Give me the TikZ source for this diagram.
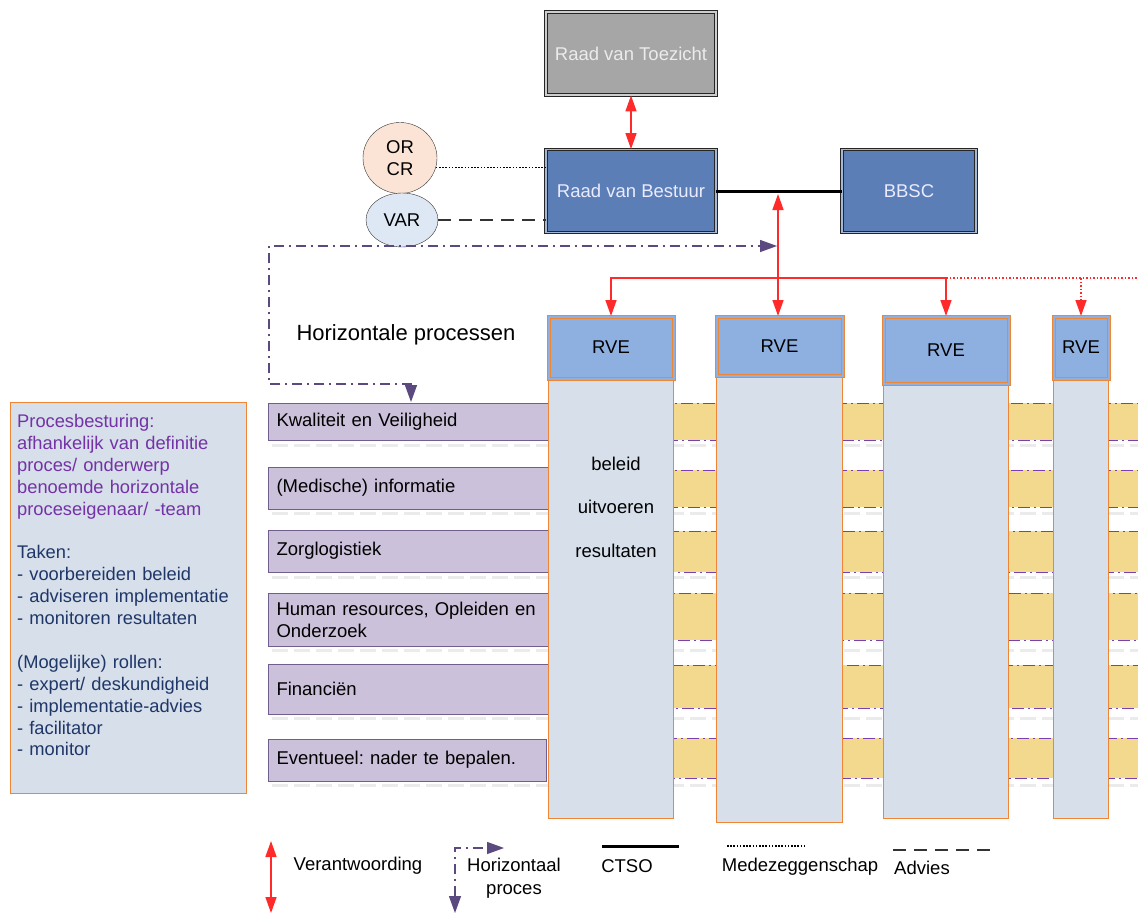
\documentclass[tikz,border=0pt]{standalone}
\usepackage{fontspec}
\setmainfont{Liberation Sans}
\usetikzlibrary{arrows.meta,shapes.geometric,positioning}

\definecolor{toezichtgray}{HTML}{A6A6A6}
\definecolor{bestuurblue}{HTML}{5A7EB5}
\definecolor{rveblue}{HTML}{8EB0E1}
\definecolor{colbg}{HTML}{D6DFEA}
\definecolor{orangeline}{HTML}{EE8636}
\definecolor{procfill}{HTML}{CCC1DA}
\definecolor{procline}{HTML}{6F5E8E}
\definecolor{bandfill}{HTML}{F3D98E}
\definecolor{bandline}{HTML}{7A3FB0}
\definecolor{hpurple}{HTML}{5B4A80}
\definecolor{orcrfill}{HTML}{FBE4D5}
\definecolor{varfill}{HTML}{DEE7F4}
\definecolor{txtpurple}{HTML}{7432A6}
\definecolor{txtnavy}{HTML}{1F3768}
\definecolor{arrowred}{HTML}{FF2A2A}

\begin{document}
\frenchspacing
\begin{tikzpicture}[x=1pt,y=-1pt,
    every node/.style={font=\fontsize{18.5}{22}\selectfont},
    board/.style={draw=black!85,line width=0.9pt,double distance=1.6pt,minimum width=170pt,minimum height=83pt},
    proc/.style={draw=procline,fill=procfill,line width=1pt,anchor=west,text width=265pt,inner xsep=8pt,align=left},
    band/.style={fill=bandfill,draw=bandline,line width=1pt,dash pattern=on 12pt off 4pt on 2pt off 4pt},
    shadowline/.style={draw=gray!16,line width=3pt,dash pattern=on 16pt off 6pt},
    colbody/.style={draw=orangeline,fill=colbg,line width=1.2pt,anchor=north west,minimum width=125pt},
    rvehead/.style={draw=orangeline,double=rveblue,double distance=2pt,line width=1pt,fill=rveblue,anchor=north west,minimum width=125pt},
    verant/.style={draw=arrowred,line width=1.6pt,>={Triangle[length=16pt,width=11pt]}},
    reddots/.style={dash pattern=on 1.5pt off 2pt},
    hproc/.style={draw=hpurple,line width=1.3pt,dash pattern=on 10pt off 5pt on 2pt off 5pt,>={Triangle[length=17pt,width=12pt]}},
  ]
    \useasboundingbox (0,0) rectangle (1138,915);

    % bestuur
    \node (toezicht) [board,fill=toezichtgray,double=toezichtgray!55!white,text=white!92!black] at (631,53.5) {Raad van Toezicht};
    \node (bestuur) [board,fill=bestuurblue,double=bestuurblue!55!white,text=white!92!blue] at (631,191) {Raad van Bestuur};
    \node (bbsc) [board,fill=bestuurblue,double=bestuurblue!55!white,text=white!92!blue,minimum width=134pt] at (909,191) {BBSC};

    \node (orcr) [ellipse,draw=black!80,fill=orcrfill,minimum width=74pt,minimum height=71pt,inner sep=0pt,align=center] at (400,158) {OR\\CR};
    \node (var) [ellipse,draw=black!80,fill=varfill,minimum width=72pt,minimum height=54pt,inner sep=0pt] at (402,220) {VAR};

    \draw[verant,<->] (toezicht) -- (bestuur);
    \draw[line width=3pt] (bestuur) -- (bbsc);
    \draw[line width=1.6pt,dash pattern=on 1.6pt off 1.6pt] (orcr.-15) -- (orcr.-15 -| bestuur.west);
    \draw[line width=1.5pt,black!80,dash pattern=on 13pt off 8pt] (var) -- (var -| bestuur.west);

    % horizontale processen
    \node (hplabel) [font=\fontsize{22}{26}\selectfont] at (406,335) {Horizontale processen};

    \draw[shadowline] (272,445) -- (1145,445);
    \draw[shadowline] (272,513) -- (1145,513);
    \draw[shadowline] (272,577) -- (1145,577);
    \draw[shadowline] (272,650) -- (1145,650);
    \draw[shadowline] (272,718) -- (1145,718);
    \draw[shadowline] (272,785) -- (1145,785);

    \node (kwal) [proc,minimum height=37pt] at (268,421.5) {Kwaliteit en Veiligheid};
    \node (med) [proc,minimum height=42pt] at (268,488) {(Medische) informatie};
    \node (zorg) [proc,minimum height=42pt] at (268,551) {Zorglogistiek};
    \node (hr) [proc,minimum height=53pt] at (268,619.5) {Human resources, Opleiden en\\Onderzoek};
    \node (fin) [proc,minimum height=50pt] at (268,689) {Financiën};
    \node (event) [proc,minimum height=42pt,text width=262pt] at (268,760) {Eventueel: nader te bepalen.};

    \filldraw[band] (549,403) rectangle (1145,440);
    \filldraw[band] (549,470) rectangle (1145,507);
    \filldraw[band] (549,531) rectangle (1145,572);
    \filldraw[band] (549,593) rectangle (1145,640);
    \filldraw[band] (549,665) rectangle (1145,708);
    \filldraw[band] (549,738) rectangle (1145,778);

    \coordinate (hpin) at (411,402);
    \coordinate (hpout) at (777,246);
    \draw[hproc,<->] (hpin) -- (411,384) -| (269,246) -- (hpout);

    % RVE kolommen
    \node (col1) [colbody,minimum height=502pt] at (548,316) {};
    \node (rve1) [rvehead,minimum height=62pt] at (548,316) {RVE};
    \node (col2) [colbody,minimum width=126pt,minimum height=506pt] at (716,316) {};
    \node (rve2) [rvehead,minimum width=126pt,minimum height=59pt] at (716,316) {RVE};
    \node (col3) [colbody,minimum height=502pt] at (883,316) {};
    \node (rve3) [rvehead,minimum height=67pt] at (883,316) {RVE};
    \node (col4) [colbody,minimum width=55pt,minimum height=502pt] at (1053,316) {};
    \node (rve4) [rvehead,minimum width=55pt,minimum height=62pt] at (1053,316) {RVE};

    \node (coltxt) [align=center,font=\fontsize{18.5}{43.5}\selectfont] at (616,507) {beleid\\uitvoeren\\resultaten};

    \coordinate (split) at (778,278);
    \coordinate (offpage) at (1145,278);
    \draw[verant,<->,shorten >=3pt] (split |- rve2.north) -- (split |- bestuur.east);
    \draw[verant,->] (split) -| (rve1.north);
    \draw[verant,->] (split) -| (rve3.north);
    \draw[verant,reddots] (rve3.north |- split) -- (offpage);
    \draw[verant,reddots,->] (rve4.north |- split) -- (rve4.north);

    % procesbesturing
    \node (infobox) [draw=orangeline,fill=colbg,line width=1pt,minimum width=236pt,minimum height=391pt,anchor=north west] at (10,402) {};
    \node (infotext) [anchor=north west,inner sep=0pt,text width=228pt,align=left,font=\fontsize{18.3}{21.9}\selectfont] at (17,414)
      {{\color{txtpurple}Procesbesturing:\\afhankelijk van definitie\\proces/ onderwerp\\benoemde horizontale\\proceseigenaar/ -team}\\[21.9pt]
       {\color{txtnavy}Taken:\\- voorbereiden beleid\\- adviseren implementatie\\- monitoren resultaten\\[21.9pt]
       (Mogelijke) rollen:\\- expert/ deskundigheid\\- implementatie-advies\\- facilitator\\- monitor}};

    % legenda
    \coordinate (lvtop) at (271,841);
    \coordinate (lvbot) at (271,913);
    \draw[verant,<->] (lvtop) -- (lvbot);
    \node (lverant) at (358,866) {Verantwoording};

    \coordinate (lhpbot) at (455,913);
    \coordinate (lhpend) at (504,848);
    \draw[hproc,<->] (lhpbot) |- (lhpend);
    \node (lhp) [align=center,font=\fontsize{18.5}{23}\selectfont] at (514,878) {Horizontaal\\proces};

    \coordinate (lctsoa) at (602,846);
    \coordinate (lctsob) at (679,846);
    \draw[line width=3pt] (lctsoa) -- (lctsob);
    \node (lctso) at (627,866) {CTSO};

    \coordinate (lmedea) at (727,846);
    \coordinate (lmedeb) at (806,846);
    \draw[line width=1.6pt,dash pattern=on 1.6pt off 1.6pt] (lmedea) -- (lmedeb);
    \node (lmede) at (800,867) {Medezeggenschap};

    \coordinate (ladva) at (893,850);
    \coordinate (ladvb) at (996,850);
    \draw[line width=1.5pt,black!80,dash pattern=on 13pt off 8pt] (ladva) -- (ladvb);
    \node (ladvies) at (922,868) {Advies};
  \end{tikzpicture}
\end{document}
